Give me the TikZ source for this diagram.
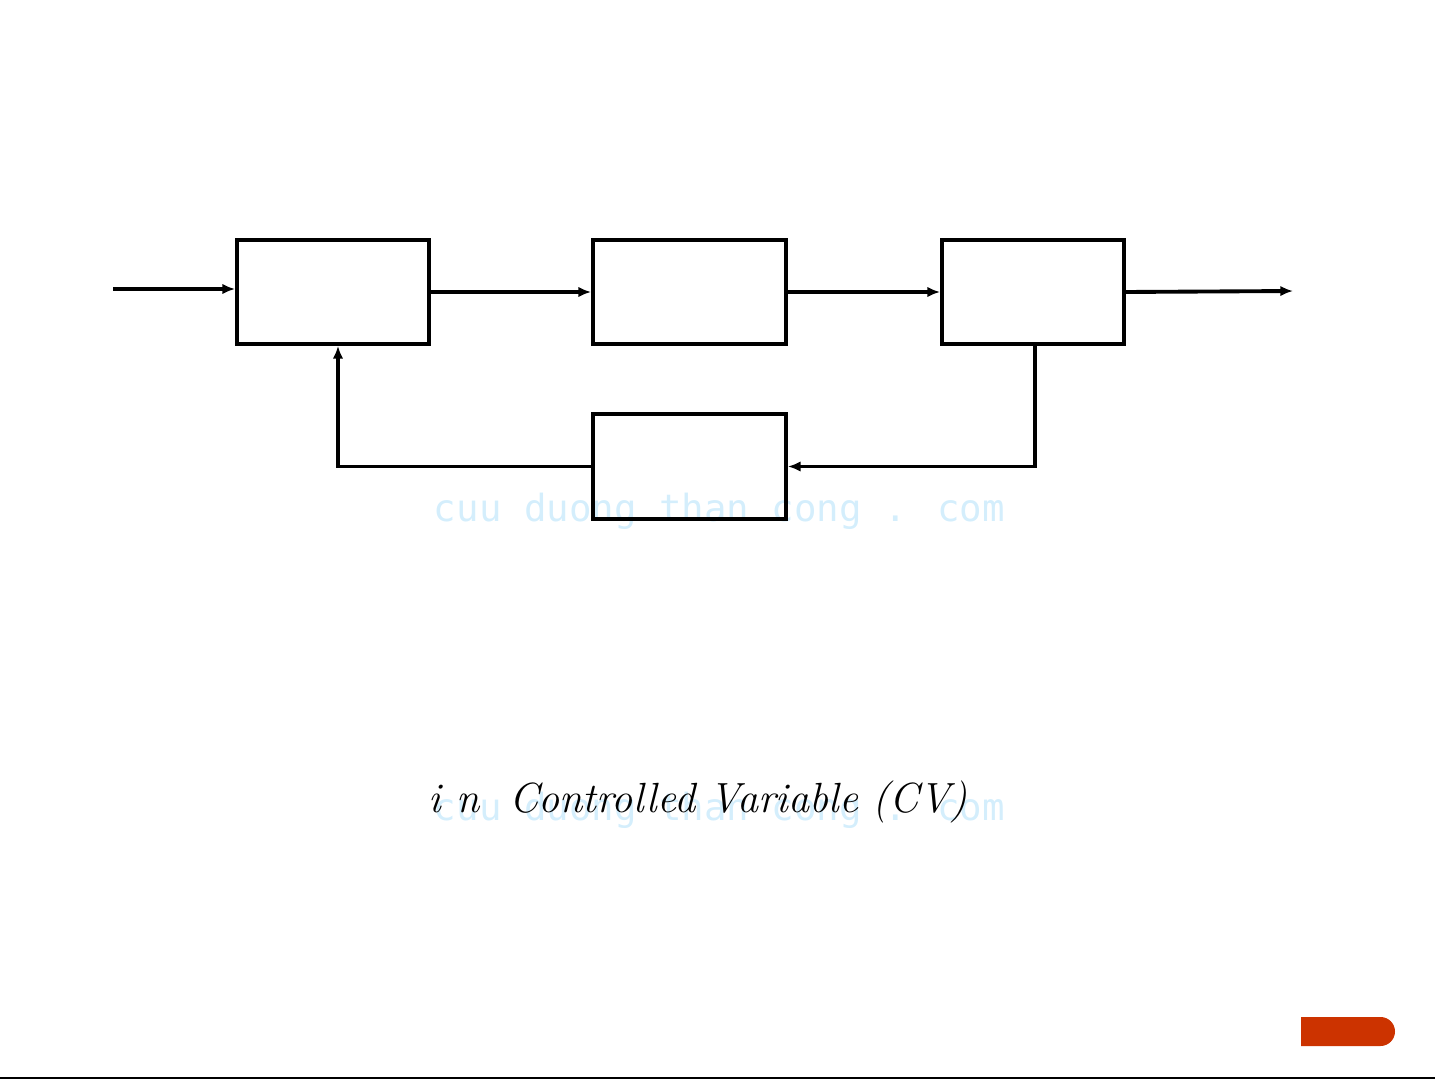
\documentclass[tikz,border=0pt]{standalone}
\usepackage{fontspec}
\newfontfamily\wmfont{DejaVu Sans Mono}
\usetikzlibrary{arrows.meta}
\definecolor{wmblue}{RGB}{212,238,252}
\definecolor{tabred}{RGB}{204,51,0}
\begin{document}
\begin{tikzpicture}[line width=1.1pt,
  block/.style={draw, minimum width=1.92cm, minimum height=1.04cm, inner sep=0pt},
  sig/.style={-{Latex[length=3.6pt,width=3pt]}}]
\useasboundingbox (0,0) rectangle (14.37,10.79);

% watermark text, behind everything
\node[anchor=base west, inner sep=0pt, text=wmblue, font=\wmfont\fontsize{10.65}{12}\selectfont] (wm1) at (4.32,5.57) {cuu duong than cong . com};
\node[anchor=base west, inner sep=0pt, text=wmblue, font=\wmfont\fontsize{10.65}{12}\selectfont] (wm2) at (4.32,2.59) {cuu duong than cong . com};

% the four blocks
\node[block] (ctrl) at (3.33,7.87) {};
\node[block, minimum width=1.93cm] (valve) at (6.895,7.87) {};
\node[block, minimum width=1.82cm] (proc) at (10.33,7.87) {};
\node[block, minimum width=1.93cm, minimum height=1.05cm] (meas) at (6.895,6.125) {};

\coordinate (in) at (1.13,7.90);
\coordinate (out) at (12.93,7.88);

% forward path
\draw[sig] (in) -- (in -| ctrl.west);
\draw[sig] (ctrl) -- (valve);
\draw[sig] (valve) -- (proc);
\draw[sig] (proc.east) -- (out);

% feedback path
\draw[sig] ([xshift=0.02cm]proc.south) |- (meas.east);
\draw[sig] (meas.west) -| ([xshift=0.05cm]ctrl.south);

\node[anchor=base west, inner sep=0pt, font=\itshape\fontsize{12}{14}\selectfont] (cv) at (4.27,2.66) {i\ n\ \ Controlled Variable (CV)};

% page decorations
\fill[tabred] (13.01,0.33) -- (13.805,0.33) arc (-90:90:0.145) -- (13.01,0.62) -- cycle;
\draw[line width=0.6pt] (0,0.01) -- (14.35,0.01);
\end{tikzpicture}
\end{document}
